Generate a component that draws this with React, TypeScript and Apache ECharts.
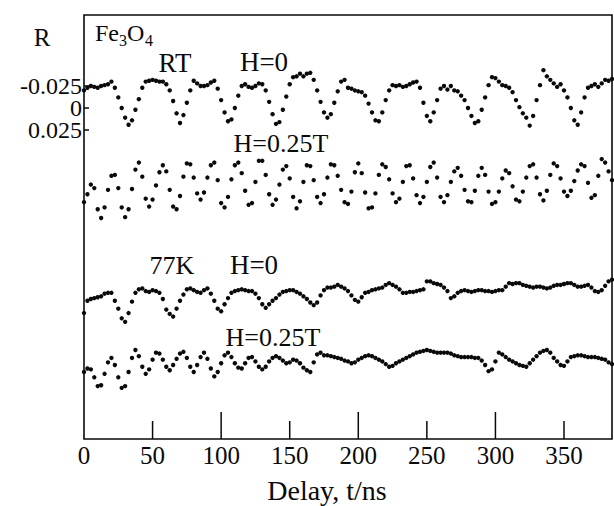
import React, { useEffect, useRef } from "react";
import * as echarts from "echarts";

const delayStep = 2.5;
const xTicks = [0, 50, 100, 150, 200, 250, 300, 350];
const xShortTicks = [50, 150, 250, 350];
const xLongTicks = [100, 200, 300];
const yTickValues = [-0.025, 0, 0.025];

// Reflectivity traces, in units of 1e-3 (vertically offset as in the figure)
const rtH0 = [
  -20, -23, -25, -24, -23, -25, -26, -27, -30, -23,
  -12, 0, 11, 19, 14, 2, -10, -23, -30, -31,
  -32, -31, -30, -30, -27, -20, -8, 6, 17, 8,
  -6, -20, -31, -28, -25, -25, -26, -29, -31, -22,
  -9, 5, 15, 13, 0, -14, -25, -27, -24, -23,
  -25, -28, -27, -20, -7, 7, 18, 16, 2, -13,
  -27, -35, -36, -39, -36, -39, -40, -32, -20, -7,
  5, 11, 7, -6, -19, -30, -32, -23, -22, -20,
  -19, -18, -14, -5, 5, 14, 15, 5, -9, -20,
  -26, -25, -26, -24, -25, -27, -29, -30, -23, -6,
  9, 15, 5, -9, -22, -25, -21, -25, -20, -19,
  -14, -9, 0, 9, 17, 15, 2, -12, -26, -35,
  -34, -30, -26, -25, -23, -18, -9, -1, 6, 11,
  20, 9, -9, -26, -43, -36, -32, -28, -24, -27,
  -20, -12, 0, 14, 19, 5, -12, -23, -25, -27,
  -24, -28, -32, -31, -33,
];

const rtH025 = [
  107, 98, 87, 91, 115, 125, 113, 93, 77, 76,
  91, 113, 124, 115, 92, 70, 62, 78, 103, 112,
  104, 88, 73, 65, 72, 93, 112, 115, 100, 78,
  63, 64, 79, 97, 104, 96, 79, 65, 62, 82,
  108, 113, 101, 81, 65, 62, 74, 94, 110, 108,
  84, 60, 60, 76, 98, 110, 104, 87, 70, 66,
  80, 101, 114, 106, 84, 65, 66, 82, 101, 108,
  98, 79, 64, 65, 77, 93, 107, 109, 95, 73,
  63, 74, 96, 114, 113, 97, 76, 64, 67, 81,
  97, 107, 103, 84, 66, 65, 80, 99, 108, 101,
  84, 67, 62, 79, 101, 107, 99, 84, 72, 68,
  77, 93, 106, 107, 94, 77, 68, 76, 95, 109,
  107, 95, 80, 71, 74, 89, 104, 106, 95, 79,
  66, 64, 79, 98, 105, 94, 76, 63, 66, 80,
  95, 100, 94, 83, 71, 64, 66, 85, 102, 99,
  77, 58, 62, 72, 82,
];

const k77H0 = [
  233, 219, 217, 216, 215, 214, 211, 210, 210, 219,
  228, 239, 243, 233, 220, 210, 206, 205, 208, 209,
  207, 208, 210, 217, 229, 234, 237, 228, 219, 212,
  206, 205, 207, 209, 210, 207, 205, 211, 219, 228,
  231, 223, 216, 210, 208, 207, 206, 207, 208, 208,
  211, 216, 223, 227, 223, 219, 216, 212, 209, 208,
  207, 207, 209, 211, 214, 217, 221, 224, 221, 213,
  207, 204, 204, 203, 201, 203, 205, 208, 213, 218,
  220, 215, 210, 209, 207, 206, 205, 204, 201, 199,
  201, 203, 206, 210, 210, 209, 209, 208, 207, 206,
  197, 197, 199, 200, 201, 204, 208, 216, 214, 210,
  208, 207, 208, 209, 208, 207, 207, 208, 208, 209,
  208, 207, 207, 203, 199, 200, 199, 199, 201, 202,
  203, 204, 203, 203, 204, 205, 204, 202, 201, 201,
  200, 199, 199, 201, 203, 203, 202, 201, 204, 208,
  209, 207, 202, 197, 195,
];

const k77H025 = [
  300, 296, 297, 306, 316, 315, 302, 289, 284, 292,
  306, 318, 316, 300, 284, 275, 282, 294, 302, 297,
  286, 278, 279, 286, 294, 298, 292, 285, 279, 277,
  284, 294, 300, 292, 283, 278, 285, 296, 305, 300,
  290, 281, 278, 283, 290, 295, 296, 290, 284, 283,
  288, 294, 297, 294, 288, 284, 282, 284, 287, 290,
  289, 286, 287, 290, 295, 298, 300, 289, 280, 278,
  281, 281, 282, 283, 284, 285, 287, 288, 290, 289,
  286, 284, 282, 281, 282, 284, 286, 288, 291, 294,
  293, 290, 288, 286, 284, 282, 280, 278, 277, 276,
  275, 276, 277, 278, 278, 278, 278, 279, 281, 282,
  283, 283, 283, 283, 284, 284, 287, 292, 299, 297,
  288, 278, 280, 283, 286, 288, 290, 292, 293, 294,
  290, 286, 282, 278, 276, 275, 278, 284, 288, 292,
  293, 288, 283, 282, 281, 281, 282, 283, 283, 283,
  284, 285, 286, 289, 291,
];

const FONT = '"Liberation Serif", "Times New Roman", serif';
const INK = "#0a0a0a";
const X_MAX = 385;
const Y_MIN = -0.1057;
const Y_MAX = 0.3761;

function toPoints(vals: number[]) {
  return vals.map((v, i) => [i * delayStep, v / 1000]);
}

function dotSeries(name: string, vals: number[]) {
  return {
    name,
    type: "scatter",
    data: toPoints(vals),
    symbol: "circle",
    symbolSize: 4.4,
    itemStyle: { color: INK, opacity: 1 },
    silent: true,
  };
}

function label(text: string, x: number, y: number, size: number, align = "center") {
  return {
    type: "text",
    x,
    y,
    z: 50,
    style: {
      text,
      font: `${size}px ${FONT}`,
      fill: INK,
      align,
      verticalAlign: "middle",
      textAlign: align,
      textVerticalAlign: "middle",
    },
  };
}

// One y axis per labelled value, so that the closely spaced labels all show
function yAxisFor(value: number) {
  return {
    type: "value",
    inverse: true,
    min: Y_MIN,
    max: Y_MAX,
    position: "left",
    axisLine: { show: false },
    axisTick: { show: false },
    axisLabel: {
      color: INK,
      fontFamily: FONT,
      fontSize: 24,
      lineHeight: 20,
      margin: 2,
      customValues: [value],
      formatter: (v: number) => (Math.abs(v) < 1e-9 ? "0" : v.toFixed(3)),
    },
    splitLine: { show: false },
  };
}

const textLabels = [
  label("R", 42, 37, 25),
  label("Fe", 95, 33, 24, "left"),
  label("3", 119, 40, 16, "left"),
  label("O", 127, 33, 24, "left"),
  label("4", 145, 40, 16, "left"),
  label("RT", 175, 63, 27),
  label("H=0", 264, 62, 27),
  label("H=0.25T", 281, 143, 26),
  label("77K", 172, 265, 26),
  label("H=0", 254, 265, 27),
  label("H=0.25T", 273, 337, 26),
  label("Delay, t/ns", 327, 490, 28),
];

export default function App() {
  const ref = useRef<HTMLDivElement>(null);

  useEffect(() => {
    if (!ref.current) return;
    const chart = echarts.init(ref.current, null, { renderer: "svg" });
    chart.setOption({
      animation: false,
      backgroundColor: "#ffffff",
      grid: {
        left: 84,
        right: 2,
        top: 15,
        bottom: 67,
        show: true,
        borderColor: INK,
        borderWidth: 1.6,
        backgroundColor: "transparent",
      },
      xAxis: {
        type: "value",
        min: 0,
        max: X_MAX,
        position: "bottom",
        axisLine: { show: false },
        axisTick: { show: false },
        axisLabel: {
          color: INK,
          fontFamily: FONT,
          fontSize: 25,
          margin: 4,
          customValues: xTicks,
        },
        splitLine: { show: false },
      },
      yAxis: yTickValues.map((v) => yAxisFor(v)),
      series: [
        dotSeries("RT H=0", rtH0),
        dotSeries("RT H=0.25T", rtH025),
        dotSeries("77K H=0", k77H0),
        dotSeries("77K H=0.25T", k77H025),
      ],
      graphic: textLabels,
    });

    // Inward tick marks of the frame, placed through the chart's own scales
    const toPx = (t: number, v: number) =>
      chart.convertToPixel({ xAxisIndex: 0, yAxisIndex: 0 }, [t, v]) as number[];
    const tickLine = (x1: number, y1: number, x2: number, y2: number) => ({
      type: "line",
      z: 100,
      silent: true,
      shape: { x1, y1, x2, y2 },
      style: { stroke: INK, lineWidth: 1.5 },
    });
    const ticks: any[] = [];
    xShortTicks.forEach((t) => {
      const p = toPx(t, Y_MAX);
      if (p) ticks.push(tickLine(p[0], p[1], p[0], p[1] - 18));
    });
    xLongTicks.forEach((t) => {
      const p = toPx(t, Y_MAX);
      if (p) ticks.push(tickLine(p[0], p[1], p[0], p[1] - 27));
    });
    yTickValues.forEach((v) => {
      const p = toPx(0, v);
      if (p) ticks.push(tickLine(p[0], p[1], p[0] + 5, p[1]));
    });
    chart.setOption({ graphic: [...textLabels, ...ticks] });

    return () => chart.dispose();
  }, []);

  return <div ref={ref} style={{ width: 614, height: 506, position: "absolute", left: 0, top: 0 }} />;
}
